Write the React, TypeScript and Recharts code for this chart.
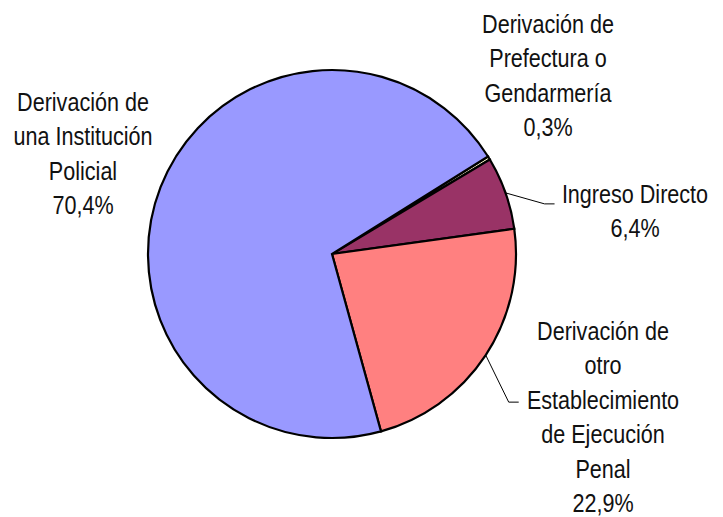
import { PieChart, Pie, Cell } from "recharts";

const categories = [
  "Derivación de Prefectura o Gendarmería",
  "Ingreso Directo",
  "Derivación de otro Establecimiento de Ejecución Penal",
  "Derivación de una Institución Policial",
];
const shares = [0.3, 6.4, 22.9, 70.4];
const labelLines = [
  ["Derivación de", "Prefectura o", "Gendarmería", "0,3%"],
  ["Ingreso Directo", "6,4%"],
  ["Derivación de", "otro", "Establecimiento", "de Ejecución", "Penal", "22,9%"],
  ["Derivación de", "una Institución", "Policial", "70,4%"],
];
const colors = ["#FFFFCC", "#993366", "#FF8080", "#9999FF"];

const data = categories.map((name, i) => ({ name, value: shares[i] }));

// first baseline of each label block, relative to pie centre
const labelOffsets = [
  { dx: 216, dy: -221 },
  { dx: 303, dy: -51 },
  { dx: 271, dy: 86 },
  { dx: -249, dy: -143 },
];
const LINE_H = 34.5;
const NARROW = 0.83; // no narrow font installed, squeeze Liberation Sans
const RAD = Math.PI / 180;

const renderLabel = (props: any) => {
  const { cx, cy, outerRadius, midAngle, index } = props;
  const off = labelOffsets[index];
  const lx = cx + off.dx;
  const ly = cy + off.dy;
  let leader = null;
  if (index === 1 || index === 2) {
    const sx = cx + outerRadius * Math.cos(-midAngle * RAD);
    const sy = cy + outerRadius * Math.sin(-midAngle * RAD);
    const ex = index === 1 ? sx + 39 : sx + 23;
    const ey = index === 1 ? sy + 11 : sy + 47;
    leader = (
      <polyline
        points={`${sx},${sy} ${ex},${ey} ${ex + 10},${ey}`}
        fill="none"
        stroke="#000"
        strokeWidth={1}
      />
    );
  }
  return (
    <g key={`lbl-${index}`}>
      {leader}
      <text
        x={0}
        y={0}
        transform={`translate(${lx},${ly}) scale(${NARROW},1)`}
        textAnchor="middle"
        fill="#111"
        fontSize={26}
        fontFamily="'Liberation Sans', Arial, sans-serif"
      >
        {labelLines[index].map((t, i) => (
          <tspan key={i} x={0} dy={i === 0 ? 0 : LINE_H}>
            {t}
          </tspan>
        ))}
      </text>
    </g>
  );
};

export default function App() {
  return (
    <PieChart width={715} height={509} margin={{ top: 0, right: 0, bottom: 0, left: 0 }}>
      <Pie
        data={data}
        dataKey="value"
        nameKey="name"
        cx={324}
        cy={246}
        outerRadius={184}
        startAngle={32}
        endAngle={-328}
        stroke="#000"
        strokeWidth={2.2}
        label={renderLabel}
        labelLine={false}
        isAnimationActive={false}
      >
        {data.map((d, i) => (
          <Cell key={d.name} fill={colors[i]} />
        ))}
      </Pie>
    </PieChart>
  );
}
